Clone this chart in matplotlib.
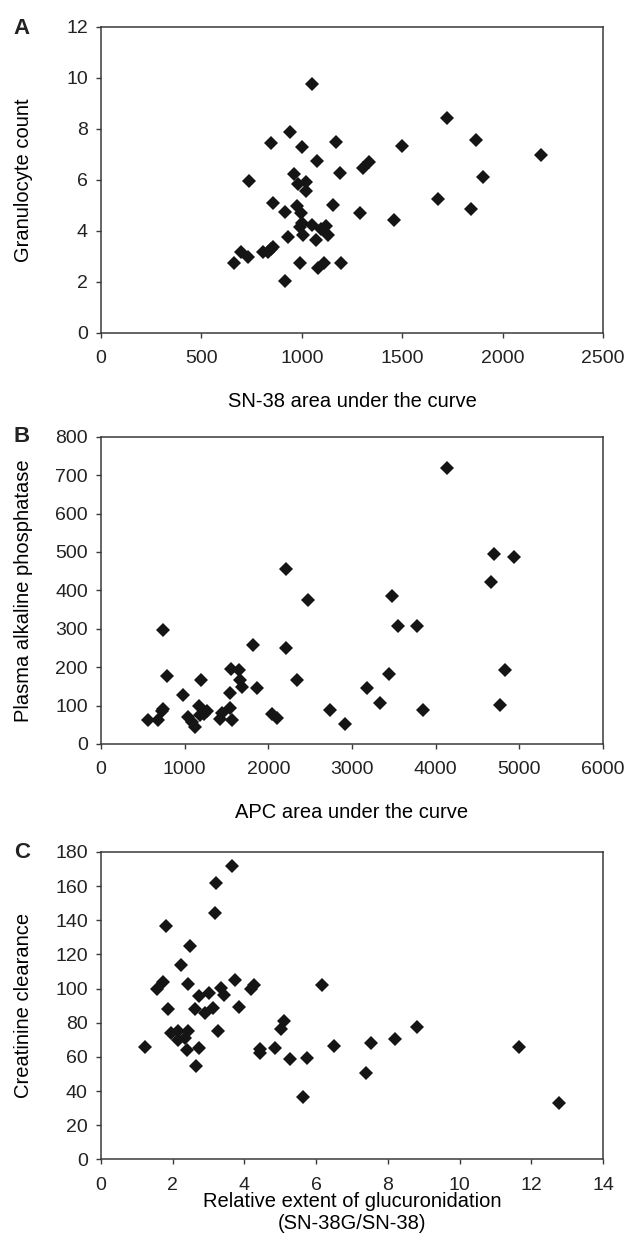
"""Three-panel scatter figure: toxicity measures vs pharmacokinetic exposure."""

import matplotlib
matplotlib.use("Agg")
import matplotlib.pyplot as plt

# ---------------------------------------------------------------------------
# Data
# ---------------------------------------------------------------------------

# Panel A: granulocyte count vs SN-38 AUC
a_auc = [1050, 939, 848, 999, 1168, 1074, 1305, 1334, 1192, 963,
         737, 983, 1022, 1021, 855, 974, 994, 916, 1155, 1288,
         999, 989, 1052, 1096, 1119, 1132, 1006, 931, 1072, 699,
         732, 807, 832, 848, 858, 661, 989, 1081, 1110, 1193,
         918, 1723, 1869, 1497, 2191, 1902, 1676, 1841, 1459]
a_gran = [9.75, 7.87, 7.42, 7.29, 7.49, 6.73, 6.46, 6.70, 6.27, 6.22,
          5.95, 5.82, 5.91, 5.57, 5.07, 4.98, 4.71, 4.75, 4.99, 4.68,
          4.31, 4.16, 4.22, 4.07, 4.20, 3.83, 3.82, 3.76, 3.63, 3.15,
          2.98, 3.15, 3.15, 3.27, 3.35, 2.75, 2.75, 2.52, 2.72, 2.75,
          2.03, 8.41, 7.56, 7.31, 6.98, 6.09, 5.24, 4.86, 4.41]

# Panel B: plasma alkaline phosphatase vs APC AUC
b_auc = [2210, 2480, 738, 1821, 2210, 794, 1556, 1647, 1667, 1683,
         1194, 1865, 2337, 1544, 976, 1175, 1270, 1234, 1183, 1540,
         1452, 1421, 1560, 738, 725, 556, 687, 1036, 1083, 1123,
         2048, 2107, 2738, 2917, 4135, 4698, 4937, 4663, 3480, 3544,
         3774, 3448, 3175, 3337, 3849, 4825, 4774]
b_alp = [456, 376, 298, 259, 251, 178, 196, 193, 167, 148,
         167, 145, 167, 132, 128, 99, 85, 78, 75, 95,
         80, 64, 62, 92, 86, 63, 62, 69, 56, 43,
         77, 68, 89, 51, 718, 495, 487, 423, 385, 306,
         306, 183, 145, 106, 89, 193, 102]

# Panel C: creatinine clearance vs SN-38G/SN-38 ratio
c_ratio = [3.64, 3.21, 3.17, 1.82, 2.48, 2.23, 1.55, 1.73, 2.44, 3.75,
           3.35, 3.42, 3.00, 2.74, 4.18, 4.27, 6.17, 1.86, 2.63, 3.85,
           3.12, 2.91, 1.95, 2.16, 2.14, 2.42, 2.35, 3.25, 5.09, 5.02,
           1.23, 2.41, 2.74, 2.66, 4.44, 4.44, 4.86, 5.28, 5.75, 6.51,
           5.62, 7.40, 7.53, 8.20, 8.80, 11.67, 12.77]
c_crcl = [171.7, 162.0, 144.4, 136.6, 125.0, 113.6, 99.7, 104.0, 102.8, 104.8,
          100.1, 96.2, 97.2, 95.8, 99.9, 102.0, 101.9, 88.2, 88.2, 89.4,
          88.4, 85.5, 74.1, 75.1, 69.9, 75.3, 70.8, 74.9, 80.8, 76.5,
          66.0, 64.2, 65.0, 54.4, 64.6, 62.4, 65.0, 58.5, 59.3, 66.1,
          36.3, 50.7, 67.9, 70.2, 77.7, 66.0, 33.2]

A_XTICKS = [0, 500, 1000, 1500, 2000, 2500]
A_YTICKS = [0, 2, 4, 6, 8, 10, 12]
B_XTICKS = [0, 1000, 2000, 3000, 4000, 5000, 6000]
B_YTICKS = [0, 100, 200, 300, 400, 500, 600, 700, 800]
C_XTICKS = [0, 2, 4, 6, 8, 10, 12, 14]
C_YTICKS = [0, 20, 40, 60, 80, 100, 120, 140, 160, 180]

# ---------------------------------------------------------------------------
# Style
# ---------------------------------------------------------------------------

W, H = 628, 1251
DPI = 100
SPINE = "#3a3a3a"
MARK = "#151515"

plt.rcParams.update({
    "font.family": ["Liberation Sans", "DejaVu Sans"],
    "font.size": 14,
    "text.color": "#222222",
    "xtick.color": SPINE,
    "ytick.color": SPINE,
    "xtick.labelcolor": "#222222",
    "ytick.labelcolor": "#222222",
})


def px_axes(fig, left, top, right, bottom):
    return fig.add_axes([left / W, 1 - bottom / H, (right - left) / W, (bottom - top) / H])


def style_panel(ax, x, y, xticks, yticks, xlabel, ylabel, xlabelpad):
    ax.plot(x, y, linestyle="none", marker="D", markersize=7.5,
            color=MARK, markeredgewidth=0)
    ax.set_xlim(xticks[0], xticks[-1])
    ax.set_ylim(yticks[0], yticks[-1])
    ax.set_xticks(xticks)
    ax.set_yticks(yticks)
    for sp in ax.spines.values():
        sp.set_color(SPINE)
        sp.set_linewidth(1.1)
    ax.tick_params(direction="out", length=3.5, width=1.0, labelsize=14)
    ax.tick_params(axis="x", pad=9)
    ax.tick_params(axis="y", pad=6)
    ax.set_xlabel(xlabel, fontsize=14.5, labelpad=xlabelpad, linespacing=1.2)
    ax.set_ylabel(ylabel, fontsize=14.5)
    ax.yaxis.set_label_coords(-0.135, 0.5)


fig = plt.figure(figsize=(W / DPI, H / DPI), dpi=DPI)

ax_a = px_axes(fig, 101, 26.7, 603, 332.7)
style_panel(ax_a, a_auc, a_gran, A_XTICKS, A_YTICKS,
            "SN-38 area under the curve", "Granulocyte count", 18)

ax_b = px_axes(fig, 101, 436.7, 603, 744)
style_panel(ax_b, b_auc, b_alp, B_XTICKS, B_YTICKS,
            "APC area under the curve", "Plasma alkaline phosphatase", 18)

ax_c = px_axes(fig, 101, 852, 603, 1159.3)
style_panel(ax_c, c_ratio, c_crcl, C_XTICKS, C_YTICKS,
            "Relative extent of glucuronidation\n(SN-38G/SN-38)", "Creatinine clearance", -1)

for letter, ypx in [("A", 28), ("B", 437), ("C", 852)]:
    fig.text(22 / W, 1 - ypx / H, letter, fontsize=16, fontweight="bold",
             ha="center", va="center")

fig.savefig("out.png", dpi=DPI, facecolor="white")
